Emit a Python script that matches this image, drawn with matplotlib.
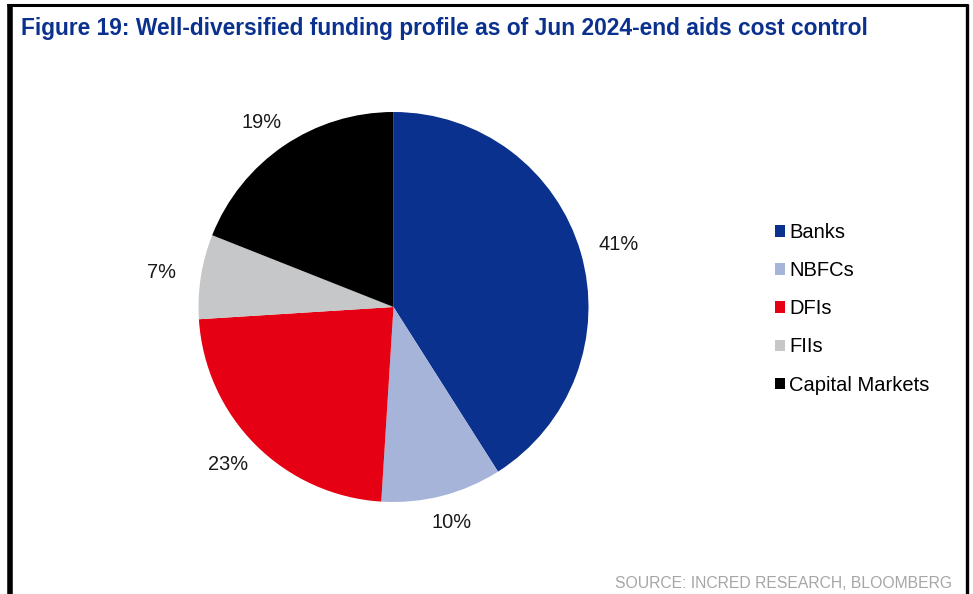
import numpy as np
import matplotlib.pyplot as plt
from matplotlib.lines import Line2D

plt.rcParams['font.family'] = ['Liberation Sans', 'DejaVu Sans']

# funding mix as of Jun 2024-end (% of borrowings)
sources = ['Banks', 'NBFCs', 'DFIs', 'FIIs', 'Capital Markets']
shares = [41, 10, 23, 7, 19]
colors = ['#0B318F', '#A7B4D9', '#E60013', '#C6C7C8', '#000000']

W, H = 973, 594
fig = plt.figure(figsize=(W / 100, H / 100), dpi=100)

# pie axes placed in pixel terms: centre (393, 307), radius ~195 px
cx, cy, r = 393.5, 307, 195
lim = 1.25
side = 2 * lim * r
ax = fig.add_axes([(cx - side / 2) / W, (H - cy - side / 2) / H, side / W, side / H])
wedges, _ = ax.pie(shares, colors=colors, startangle=90, counterclock=False)
ax.set_xlim(-lim, lim)
ax.set_ylim(-lim, lim)
ax.set_aspect('equal')
ax.axis('off')

# percentage labels sit just outside the rim, nudged away by half their box
for w, val in zip(wedges, shares):
    ang = np.deg2rad((w.theta1 + w.theta2) / 2)
    c, s = np.cos(ang), np.sin(ang)
    ax.annotate(f'{val}%', (1.1 * c, 1.1 * s), xytext=(c * 14.5, s * 6),
                textcoords='offset points', ha='center', va='center',
                fontsize=14.4, color='#1a1a1a')

fig.legend(wedges, sources, loc='upper left', bbox_to_anchor=(767 / W, 1 - 215 / H),
           frameon=False, fontsize=14.5, handlelength=0.5, handleheight=0.5,
           handletextpad=0.2, labelspacing=0.95, borderaxespad=0)

fig.text(21 / W, 1 - 28 / H, 'Figure 19: Well-diversified funding profile as of Jun 2024-end aids cost control',
         fontsize=16.4, fontweight='bold', color='#0B318F', va='center', ha='left')
fig.text(952 / W, 1 - 583 / H, 'SOURCE: INCRED RESEARCH, BLOOMBERG',
         fontsize=11.3, color='#A6A6A6', va='center', ha='right')

# black frame: top, left and right edges
fig.add_artist(Line2D([7 / W, 968 / W], [1 - 5 / H, 1 - 5 / H], color='black', lw=2.2,
                      transform=fig.transFigure, solid_capstyle='butt'))
fig.add_artist(Line2D([9.5 / W, 9.5 / W], [0, 1 - 4 / H], color='black', lw=4,
                      transform=fig.transFigure, solid_capstyle='butt'))
fig.add_artist(Line2D([966.5 / W, 966.5 / W], [0, 1 - 4 / H], color='black', lw=2.4,
                      transform=fig.transFigure, solid_capstyle='butt'))

fig.savefig('out.png', dpi=100)
